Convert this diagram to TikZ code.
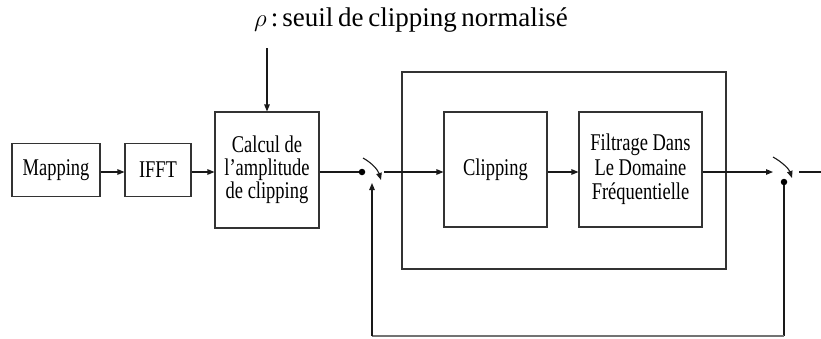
\documentclass[tikz,border=0pt]{standalone}
\usepackage{fontspec}
\setmainfont{Liberation Serif}
\newfontfamily\boxfont[FakeStretch=0.77]{Liberation Serif}
\usetikzlibrary{arrows.meta}
\begin{document}
\begin{tikzpicture}[x=1pt,y=-1pt,
  blk/.style={draw=black!80, line width=1.1pt, inner sep=0pt, align=center,
    font=\boxfont\fontsize{24}{23}\selectfont},
  conn/.style={line width=1.1pt, draw=black!90, -{Triangle[length=7pt,width=5.5pt]}},
  plain/.style={line width=1.1pt, draw=black!90},
  dotn/.style={circle, fill=black, inner sep=0pt, minimum size=6.5pt}]
\useasboundingbox (0,0) rectangle (821,338);
\coordinate (row) at (0,172);
% title
\node[font=\fontsize{27}{30}\selectfont, inner sep=0pt, anchor=base west] (title) at (254,26)
  {$\rho$\hspace{4pt}:\hspace{4pt}seuil\hspace{-2pt} de\hspace{-2pt} clipping\hspace{-2pt} normalisé};
% boxes
\node[blk, minimum width=88pt, minimum height=53pt] (map) at (56,170) {Mapping};
\node[blk, minimum width=66pt, minimum height=53pt] (ifft) at (158,170) {IFFT};
\node[blk, minimum width=104pt, minimum height=116pt] (calc) at (267,170) {Calcul de\\l’amplitude\\de clipping};
\node[draw=black!80, line width=1.1pt, minimum width=324pt, minimum height=197pt, inner sep=0pt] (outer) at (564,170.5) {};
\node[blk, minimum width=103pt, minimum height=115pt] (clip) at (495.5,169.5) {Clipping};
\node[blk, minimum width=123pt, minimum height=115pt, font=\boxfont\fontsize{24}{24.5}\selectfont] (filt) at (640.5,169.5) {Filtrage Dans\\Le Domaine\\Fréquentielle};
% switch 1
\node[dotn] (d1) at (362,172) {};
\coordinate (s1a) at (363,158);
\coordinate (s1b) at (381,180);
\coordinate (s1o) at (384,172);
\coordinate (s1f) at (372,183);
% switch 2
\node[dotn] (d2) at (784,182) {};
\coordinate (s2a) at (773,157);
\coordinate (s2b) at (792,178);
\coordinate (s2i) at (773,172);
\coordinate (s2o) at (799,172);
\coordinate (out) at (821,172);
\coordinate (bl) at (372,336);
\coordinate (br) at (784,336);
\coordinate (ttop) at (267,48);
% connectors
\draw[conn] (ttop) -- (calc.north);
\draw[conn] (map.east |- row) -- (ifft.west |- row);
\draw[conn] (ifft.east |- row) -- (calc.west |- row);
\draw[plain] (calc.east |- row) -- (d1);
\draw[conn] (s1a) .. controls (372,163) and (378,170) .. (s1b);
\draw[conn] (s1o) -- (clip.west |- row);
\draw[conn] (clip.east |- row) -- (filt.west |- row);
\draw[conn] (filt.east |- row) -- (s2i);
\draw[conn] (s2a) .. controls (782,162) and (789,169) .. (s2b);
\draw[plain] (s2o) -- (out);
\draw[plain] (d2) -- (br);
\draw[plain, draw=black!55] (br) -- (bl);
\draw[conn] (bl) -- (s1f);
\end{tikzpicture}
\end{document}
